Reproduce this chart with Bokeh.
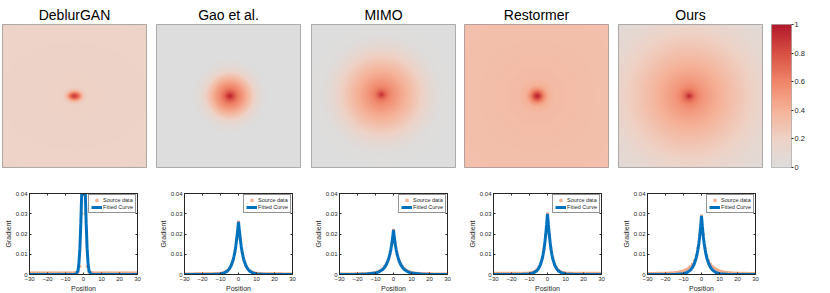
import numpy as np
from bokeh.plotting import figure
from bokeh.layouts import row, column
from bokeh.models import (LinearColorMapper, FixedTicker, LinearAxis, Legend,
                          LegendItem, Range1d)
from bokeh.embed import file_html
from bokeh.resources import INLINE

# ---------------- data ----------------
methods = ["DeblurGAN", "Gao et al.", "MIMO", "Restormer", "Ours"]

# Effective receptive field maps: radial profile (radius normalised so that
# 1 = half the panel width) -> normalised gradient value
deblurgan_erf_r = [0.0, 0.03, 0.06, 0.09, 0.13, 0.5, 1.5]
deblurgan_erf_v = [0.90, 0.80, 0.55, 0.30, 0.20, 0.19, 0.18]
gao_erf_r = [0.0, 0.03, 0.07, 0.12, 0.20, 0.28, 0.36, 0.45, 0.55, 1.5]
gao_erf_v = [1.00, 0.90, 0.75, 0.62, 0.48, 0.32, 0.15, 0.04, 0.0, 0.0]
mimo_erf_r = [0.0, 0.03, 0.08, 0.14, 0.25, 0.40, 0.55, 0.70, 0.85, 1.5]
mimo_erf_v = [0.95, 0.82, 0.66, 0.57, 0.47, 0.35, 0.22, 0.09, 0.01, 0.0]
restormer_erf_r = [0.0, 0.03, 0.07, 0.11, 0.16, 0.25, 0.50, 1.5]
restormer_erf_v = [1.00, 0.90, 0.70, 0.52, 0.40, 0.35, 0.33, 0.31]
ours_erf_r = [0.0, 0.03, 0.07, 0.12, 0.20, 0.35, 0.50, 0.70, 0.90, 1.10, 1.42]
ours_erf_v = [1.00, 0.85, 0.70, 0.60, 0.52, 0.44, 0.37, 0.28, 0.20, 0.12, 0.05]
erf_center_x = [0.0, 0.02, -0.03, 0.01, -0.02]
erf_center_y = [0.0, 0.0, 0.02, 0.0, 0.0]
erf_aspect = [1.35, 1.0, 1.0, 1.0, 1.0]

cbar_ticks = [0, 0.2, 0.4, 0.6, 0.8, 1]
cbar_labels = ["0", "0.2", "0.4", "0.6", "0.8", "1"]

# 1-D gradient profiles (half profiles, position = index, mirrored)
fit_pos_half = [0, 0.5, 1, 1.5, 2, 2.5, 3, 4, 5, 6, 8, 10, 15, 20, 30]
deblurgan_fit = [0.075, 0.058, 0.040, 0.025, 0.013, 0.006, 0.002, 0.0003, 0, 0, 0, 0, 0, 0, 0]
gao_fit = [0.026, 0.0215, 0.0175, 0.014, 0.0112, 0.009, 0.0072, 0.0046, 0.0029, 0.0018, 0.0007, 0.0003, 0.00003, 0, 0]
mimo_fit = [0.022, 0.018, 0.0148, 0.0122, 0.0101, 0.0084, 0.007, 0.0049, 0.0035, 0.0025, 0.0013, 0.0007, 0.0002, 0.00005, 0]
restormer_fit = [0.030, 0.0245, 0.0195, 0.0155, 0.0122, 0.0096, 0.0076, 0.0047, 0.0029, 0.0018, 0.0007, 0.0003, 0, 0, 0]
ours_fit = [0.029, 0.0235, 0.0188, 0.0152, 0.0123, 0.0099, 0.008, 0.0053, 0.0035, 0.0023, 0.001, 0.0004, 0.00005, 0, 0]

deblurgan_src = [0.070, 0.030, 0.004, 0.0012, 0.0009, 0.0009, 0.0008, 0.0008, 0.0008, 0.0008,
                 0.0008, 0.0008, 0.0008, 0.0008, 0.0008, 0.0008, 0.0008, 0.0008, 0.0008, 0.0008,
                 0.0008, 0.0008, 0.0008, 0.0008, 0.0008, 0.0008, 0.0008, 0.0008, 0.0008, 0.0008, 0.0008]
gao_src = [0.026, 0.0175, 0.011, 0.0072, 0.0047, 0.0031, 0.0021, 0.0015, 0.0011, 0.0008,
           0.0006, 0.0005, 0.0005, 0.0004, 0.0004, 0.0004, 0.0004, 0.0004, 0.0004, 0.0004,
           0.0004, 0.0004, 0.0004, 0.0004, 0.0004, 0.0003, 0.0003, 0.0003, 0.0003, 0.0003, 0.0003]
mimo_src = [0.022, 0.0150, 0.0102, 0.0073, 0.0053, 0.0039, 0.0029, 0.0022, 0.0017, 0.0013,
            0.0010, 0.0008, 0.0007, 0.0006, 0.0005, 0.0005, 0.0004, 0.0004, 0.0004, 0.0004,
            0.0004, 0.0004, 0.0003, 0.0003, 0.0003, 0.0003, 0.0003, 0.0003, 0.0003, 0.0003, 0.0003]
restormer_src = [0.030, 0.0195, 0.0125, 0.008, 0.0052, 0.0034, 0.0023, 0.0016, 0.0012, 0.0010,
                 0.0008, 0.0007, 0.0007, 0.0006, 0.0006, 0.0006, 0.0006, 0.0006, 0.0006, 0.0006,
                 0.0006, 0.0006, 0.0006, 0.0006, 0.0006, 0.0006, 0.0006, 0.0006, 0.0006, 0.0006, 0.0006]
ours_src = [0.029, 0.0195, 0.013, 0.0092, 0.0068, 0.0052, 0.0041, 0.0033, 0.0027, 0.0022,
            0.0018, 0.0015, 0.0013, 0.0011, 0.0010, 0.0009, 0.0008, 0.0008, 0.0007, 0.0007,
            0.0007, 0.0006, 0.0006, 0.0006, 0.0006, 0.0006, 0.0005, 0.0005, 0.0005, 0.0005, 0.0005]

x_ticks = [-30, -20, -10, 0, 10, 20, 30]
y_ticks = [0, 0.01, 0.02, 0.03, 0.04]
y_labels = ["0", "0.01", "0.02", "0.03", "0.04"]

erf_profiles = [(deblurgan_erf_r, deblurgan_erf_v), (gao_erf_r, gao_erf_v),
                (mimo_erf_r, mimo_erf_v), (restormer_erf_r, restormer_erf_v),
                (ours_erf_r, ours_erf_v)]
fits = [deblurgan_fit, gao_fit, mimo_fit, restormer_fit, ours_fit]
srcs = [deblurgan_src, gao_src, mimo_src, restormer_src, ours_src]

# ---------------- style ----------------
FONT = "Liberation Sans"
cmap_stops = [0.0, 0.2, 0.4, 0.6, 0.8, 1.0]
cmap_rgb = [(221, 221, 221), (238, 210, 198), (245, 178, 152),
            (240, 133, 105), (216, 80, 68), (178, 24, 43)]


def make_palette(n=256):
    t = np.linspace(0, 1, n)
    arr = np.array(cmap_rgb, dtype=float)
    cols = []
    for ti in t:
        rgb = [np.interp(ti, cmap_stops, arr[:, k]) for k in range(3)]
        cols.append("#%02x%02x%02x" % tuple(int(round(c)) for c in rgb))
    return cols


palette = make_palette()
mapper = LinearColorMapper(palette=palette, low=0, high=1)

# ---------------- top row: ERF maps ----------------
top_left = [2, 0, 0, 0, 0]
top_right = [10, 11, 9, 10, 9]
N = 144
g = np.linspace(-1, 1, N)
XX, YY = np.meshgrid(g, g)

top_figs = []
for i, name in enumerate(methods):
    rr, vv = erf_profiles[i]
    R = np.sqrt(((XX - erf_center_x[i]) / erf_aspect[i]) ** 2 + (YY - erf_center_y[i]) ** 2)
    img = np.interp(R, rr, vv)
    p = figure(frame_width=144, frame_height=143, x_range=Range1d(0, 1), y_range=Range1d(0, 1),
               min_border_left=top_left[i], min_border_right=top_right[i],
               min_border_top=24, min_border_bottom=10,
               x_axis_location=None, y_axis_location=None,
               toolbar_location=None, output_backend="svg", title=name)
    p.image(image=[img], x=0, y=0, dw=1, dh=1, color_mapper=mapper)
    p.grid.visible = False
    p.title.align = "center"
    p.title.text_font = FONT
    p.title.text_font_size = "14px"
    p.title.text_font_style = "normal"
    p.title.text_color = "#000000"
    p.title.standoff = 4
    p.outline_line_color = "#9a9a9a"
    p.outline_line_width = 1
    p.background_fill_color = "white"
    top_figs.append(p)

# colour bar
cb = figure(frame_width=20, frame_height=143, x_range=Range1d(0, 1), y_range=Range1d(0, 1),
            min_border_left=0, min_border_right=25, min_border_top=24, min_border_bottom=10,
            x_axis_location=None, y_axis_location="right",
            toolbar_location=None, output_backend="svg")
cb.image(image=[np.linspace(0, 1, 256).reshape(256, 1)], x=0, y=0, dw=1, dh=1,
         color_mapper=mapper)
cb.grid.visible = False
cb.outline_line_color = "#b0b0b0"
cb.yaxis.ticker = FixedTicker(ticks=cbar_ticks)
cb.yaxis.major_label_overrides = {t: l for t, l in zip(cbar_ticks, cbar_labels)}
cb.yaxis.axis_line_color = None
cb.yaxis.major_tick_out = 2
cb.yaxis.major_tick_in = 0
cb.yaxis.minor_tick_line_color = None
cb.yaxis.major_tick_line_color = "#262626"
cb.yaxis.major_label_standoff = 1
cb.yaxis.major_label_text_font = FONT
cb.yaxis.major_label_text_font_size = "7.5px"
cb.yaxis.major_label_text_color = "#262626"
top_figs.append(cb)

# ---------------- bottom row: 1-D profiles ----------------
bot_left = [29, 28, 27, 28, 27]
bot_right = [19, 19, 18, 18, 20]
AX = "#262626"

bot_figs = []
for i in range(5):
    fh = np.array(fits[i], dtype=float)
    ph = np.array(fit_pos_half, dtype=float)
    xf = np.concatenate([-ph[::-1], ph[1:]])
    yf = np.concatenate([fh[::-1], fh[1:]])
    sh = np.array(srcs[i], dtype=float)
    sp = np.arange(len(sh), dtype=float)
    xs = np.concatenate([-sp[::-1], sp[1:]])
    ys = np.concatenate([sh[::-1], sh[1:]])

    p = figure(frame_width=108, frame_height=81, x_range=Range1d(-30, 30), y_range=Range1d(0, 0.04),
               min_border_left=bot_left[i], min_border_right=bot_right[i],
               min_border_top=16, min_border_bottom=19,
               toolbar_location=None, output_backend="svg")
    p.grid.visible = False
    p.outline_line_color = AX
    p.outline_line_width = 0.8
    r_src = p.scatter(xs, ys, marker="square", size=2, color="#EE9F7A", alpha=0.7)
    r_fit = p.line(xf, yf, line_width=3, color="#0072BD")

    for ax in (p.xaxis[0], p.yaxis[0]):
        ax.axis_line_color = AX
        ax.major_tick_line_color = AX
        ax.major_tick_in = 2
        ax.major_tick_out = 0
        ax.minor_tick_line_color = None
        ax.major_label_text_font = FONT
        ax.major_label_text_font_size = "6px"
        ax.major_label_text_color = AX
        ax.major_label_standoff = 2
        ax.axis_label_text_font = FONT
        ax.axis_label_text_font_size = "7px"
        ax.axis_label_text_font_style = "normal"
        ax.axis_label_text_color = AX
        ax.axis_label_standoff = 1
    p.xaxis.ticker = FixedTicker(ticks=x_ticks)
    p.yaxis.ticker = FixedTicker(ticks=y_ticks)
    p.yaxis.major_label_overrides = {t: l for t, l in zip(y_ticks, y_labels)}
    p.xaxis.axis_label = "Position"
    p.yaxis.axis_label = "Gradient"

    top_ax = LinearAxis(ticker=FixedTicker(ticks=x_ticks), major_tick_in=2, major_tick_out=0,
                        major_label_overrides={t: "" for t in x_ticks},
                        major_label_text_font_size="6px", minor_tick_line_color=None,
                        axis_line_color=AX, major_tick_line_color=AX, major_label_standoff=0)
    right_ax = LinearAxis(ticker=FixedTicker(ticks=y_ticks), major_tick_in=2, major_tick_out=0,
                          major_label_overrides={t: "" for t in y_ticks},
                          major_label_text_font_size="6px", minor_tick_line_color=None,
                          axis_line_color=AX, major_tick_line_color=AX, major_label_standoff=0)
    p.add_layout(top_ax, "above")
    p.add_layout(right_ax, "right")

    legend = Legend(items=[LegendItem(label="Source data", renderers=[r_src]),
                           LegendItem(label="Fitted Curve", renderers=[r_fit])],
                    location="top_right", label_text_font=FONT, label_text_font_size="5.5px",
                    label_text_color=AX, glyph_width=11, glyph_height=6, label_height=6,
                    label_standoff=1, spacing=1, padding=2, margin=1,
                    border_line_color=AX, border_line_width=0.6,
                    background_fill_color="white", background_fill_alpha=1)
    p.add_layout(legend)
    bot_figs.append(p)

layout = column(row(*top_figs, spacing=0), row(*bot_figs, spacing=0), spacing=0)

open("out.html", "w").write(file_html(layout, INLINE))
